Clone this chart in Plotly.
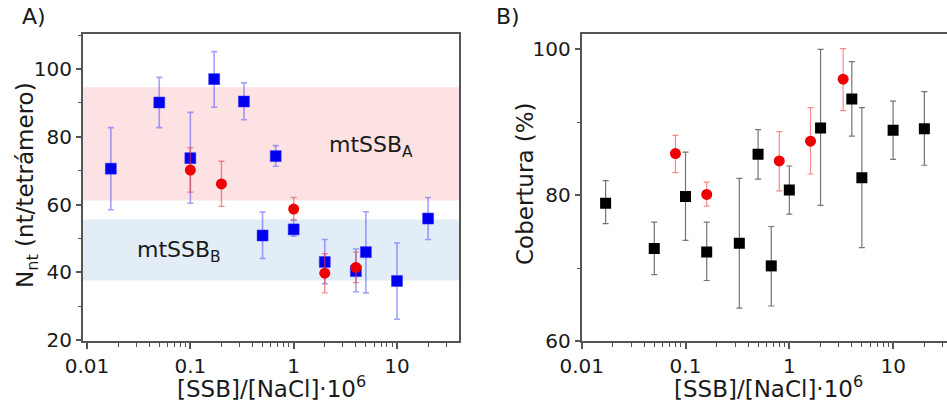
import plotly.graph_objects as go

# ---------------- Panel A data ----------------
a_sq_x = [0.017, 0.05, 0.1, 0.17, 0.33, 0.5, 0.67, 1.0, 2.0, 4.0, 5.0, 10.0, 20.0]
a_sq_y = [70.6, 90.1, 73.7, 97.0, 90.4, 50.9, 74.3, 52.7, 43.1, 40.4, 46.0, 37.5, 55.9]
a_sq_hi = [82.7, 97.5, 87.2, 105.1, 95.9, 57.8, 77.4, 55.3, 49.7, 46.9, 57.9, 48.7, 62.1]
a_sq_lo = [58.5, 82.7, 60.4, 88.7, 85.0, 44.1, 71.3, 50.7, 36.7, 34.3, 34.0, 26.2, 49.7]

a_ci_x = [0.1, 0.2, 1.0, 2.0, 4.0]
a_ci_y = [70.2, 66.1, 58.7, 39.8, 41.5]
a_ci_hi = [76.8, 72.8, 62.1, 45.5, 46.0]
a_ci_lo = [63.7, 59.5, 55.6, 34.0, 37.0]

band_A = [61.2, 94.6]   # mtSSB_A
band_B = [37.6, 55.6]   # mtSSB_B

# ---------------- Panel B data ----------------
b_sq_x = [0.017, 0.05, 0.1, 0.16, 0.33, 0.5, 0.67, 1.0, 2.0, 4.0, 5.0, 10.0, 20.0]
b_sq_y = [78.9, 72.7, 79.8, 72.2, 73.4, 85.6, 70.3, 80.7, 89.2, 93.2, 82.4, 88.9, 89.1]
b_sq_hi = [82.0, 76.3, 85.9, 76.3, 82.3, 89.0, 75.7, 84.0, 100.0, 98.3, 92.0, 92.9, 94.2]
b_sq_lo = [76.1, 69.1, 73.8, 68.3, 64.5, 82.2, 64.8, 77.4, 78.6, 88.1, 72.8, 84.9, 84.1]

b_ci_x = [0.08, 0.16, 0.8, 1.6, 3.3]
b_ci_y = [85.7, 80.1, 84.7, 87.4, 95.9]
b_ci_hi = [88.2, 81.8, 88.7, 92.0, 100.1]
b_ci_lo = [83.1, 78.5, 80.6, 82.9, 91.6]

x_ticks = [0.01, 0.1, 1, 10]
x_ticklabels = ["0.01", "0.1", "1", "10"]


def err(y, hi, lo):
    return [h - v for h, v in zip(hi, y)], [v - l for v, l in zip(y, lo)]


FONT = "DejaVu Sans"
TXT = "#1a1a1a"
AX = "#555555"

fig = go.Figure()

# Panel A squares
p, m = err(a_sq_y, a_sq_hi, a_sq_lo)
fig.add_trace(go.Scatter(
    x=a_sq_x, y=a_sq_y, mode="markers", xaxis="x", yaxis="y",
    marker=dict(symbol="square", size=11, color="#0000ee",
                line=dict(color="#3030ff", width=0.5)),
    error_y=dict(type="data", symmetric=False, array=p, arrayminus=m,
                 color="rgba(70,70,255,0.5)", thickness=1.6, width=3),
    showlegend=False))
# Panel A circles
p, m = err(a_ci_y, a_ci_hi, a_ci_lo)
fig.add_trace(go.Scatter(
    x=a_ci_x, y=a_ci_y, mode="markers", xaxis="x", yaxis="y",
    marker=dict(symbol="circle", size=11, color="#ee0000",
                line=dict(color="#ee0000", width=0)),
    error_y=dict(type="data", symmetric=False, array=p, arrayminus=m,
                 color="rgba(240,60,60,0.6)", thickness=1.4, width=3),
    showlegend=False))

# Panel B squares
p, m = err(b_sq_y, b_sq_hi, b_sq_lo)
fig.add_trace(go.Scatter(
    x=b_sq_x, y=b_sq_y, mode="markers", xaxis="x2", yaxis="y2",
    marker=dict(symbol="square", size=11, color="#000000"),
    error_y=dict(type="data", symmetric=False, array=p, arrayminus=m,
                 color="rgba(70,70,70,0.75)", thickness=1.2, width=3),
    showlegend=False))
# Panel B circles
p, m = err(b_ci_y, b_ci_hi, b_ci_lo)
fig.add_trace(go.Scatter(
    x=b_ci_x, y=b_ci_y, mode="markers", xaxis="x2", yaxis="y2",
    marker=dict(symbol="circle", size=11, color="#ee0000"),
    error_y=dict(type="data", symmetric=False, array=p, arrayminus=m,
                 color="rgba(240,60,60,0.6)", thickness=1.2, width=3),
    showlegend=False))

W, H = 947, 407
yb, yt = 1 - 341 / H, 1 - 34 / H

xcommon = dict(type="log", showgrid=False, zeroline=False, showline=True,
               automargin=False,
               linecolor=AX, linewidth=2, ticks="outside", ticklen=6,
               tickwidth=1.5, tickcolor=AX, tickvals=x_ticks,
               ticktext=x_ticklabels,
               tickfont=dict(family=FONT, size=20, color=TXT),
               minor=dict(ticks="outside", ticklen=4, tickwidth=1,
                          tickcolor=AX, dtick="D1", showgrid=False))
ycommon = dict(showgrid=False, zeroline=False, showline=True,
               automargin=False,
               linecolor=AX, linewidth=2, ticks="outside", ticklen=5,
               tickwidth=1.5, tickcolor=AX, dtick=20,
               tickfont=dict(family=FONT, size=20, color=TXT),
               minor=dict(ticks="outside", ticklen=3, tickwidth=1,
                          tickcolor=AX, dtick=10, showgrid=False))

fig.update_layout(
    width=W, height=H, margin=dict(l=0, r=0, t=0, b=0, pad=0),
    autosize=False,
    paper_bgcolor="white", plot_bgcolor="white",
    xaxis=dict(xcommon, domain=[83 / W, 459 / W], range=[-2.039, 1.60],
               mirror=True, anchor="y"),
    yaxis=dict(ycommon, domain=[yb, yt], range=[19.8, 110.3],
               mirror=True, anchor="x"),
    xaxis2=dict(xcommon, domain=[581.7 / W, 1.0], range=[-2.0, 1.519],
                mirror=True, anchor="y2"),
    yaxis2=dict(ycommon, domain=[yb, yt], range=[60, 102.1],
                mirror=False, anchor="x2"),
    shapes=[
        dict(type="rect", xref="x domain", yref="y", x0=0, x1=1,
             y0=band_A[0], y1=band_A[1], fillcolor="#fde2e3",
             line=dict(width=0), layer="below"),
        dict(type="rect", xref="x domain", yref="y", x0=0, x1=1,
             y0=band_B[0], y1=band_B[1], fillcolor="#e3edf7",
             line=dict(width=0), layer="below"),
    ],
)

ann = []
ann.append(dict(text="A)", x=20 / W, y=1 - 17 / H, xref="paper", yref="paper",
                xanchor="left", yanchor="middle", showarrow=False,
                font=dict(family=FONT, size=22, color=TXT)))
ann.append(dict(text="B)", x=494 / W, y=1 - 17 / H, xref="paper", yref="paper",
                xanchor="left", yanchor="middle", showarrow=False,
                font=dict(family=FONT, size=22, color=TXT)))
ann.append(dict(text="N<sub>nt</sub> (nt/tetrámero)", x=27 / W, y=1 - 185 / H,
                xref="paper", yref="paper", textangle=-90, showarrow=False,
                xanchor="center", yanchor="middle",
                font=dict(family=FONT, size=23, color=TXT)))
ann.append(dict(text="Cobertura (%)", x=525 / W, y=1 - 184 / H,
                xref="paper", yref="paper", textangle=-90, showarrow=False,
                xanchor="center", yanchor="middle",
                font=dict(family=FONT, size=23, color=TXT)))
ann.append(dict(text="[SSB]/[NaCl]·10<sup>6</sup>", x=271 / W, y=1 - 387 / H,
                xref="paper", yref="paper", showarrow=False,
                xanchor="center", yanchor="middle",
                font=dict(family=FONT, size=23, color=TXT)))
ann.append(dict(text="[SSB]/[NaCl]·10<sup>6</sup>", x=768 / W, y=1 - 387 / H,
                xref="paper", yref="paper", showarrow=False,
                xanchor="center", yanchor="middle",
                font=dict(family=FONT, size=23, color=TXT)))
ann.append(dict(text="mtSSB<sub>A</sub>", x=371 / W, y=1 - 146 / H,
                xref="paper", yref="paper", showarrow=False,
                xanchor="center", yanchor="middle",
                font=dict(family=FONT, size=22, color=TXT)))
ann.append(dict(text="mtSSB<sub>B</sub>", x=179 / W, y=1 - 251 / H,
                xref="paper", yref="paper", showarrow=False,
                xanchor="center", yanchor="middle",
                font=dict(family=FONT, size=22, color=TXT)))
fig.update_layout(annotations=ann)

fig.write_html("out.html")
